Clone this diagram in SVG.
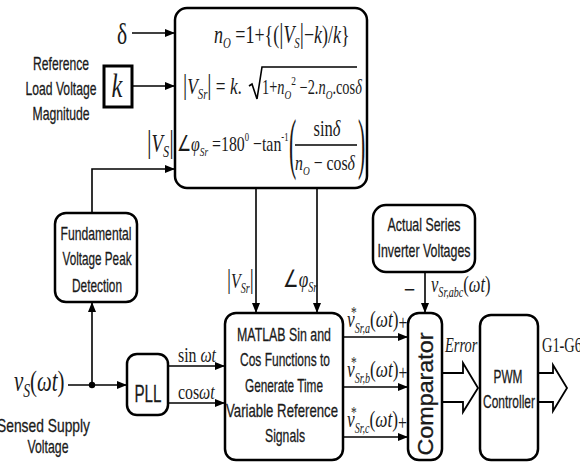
<svg xmlns="http://www.w3.org/2000/svg" width="580" height="463" viewBox="0 0 580 463">
<defs>
<marker id="ah" viewBox="0 0 10 8" refX="10" refY="4" markerWidth="10" markerHeight="8" markerUnits="userSpaceOnUse" orient="auto"><path d="M0,0 L10,4 L0,8 z" fill="#000"/></marker>
</defs>
<style>
.box{fill:#fff;stroke:#000;stroke-width:2.5}
.ln{stroke:#000;stroke-width:1.6;fill:none}
.arr{stroke:#000;stroke-width:1.6;fill:none;marker-end:url(#ah)}
.hol{stroke:#000;stroke-width:1.8;fill:#fff}
.t{font-family:"Liberation Sans",Arial,sans-serif;text-anchor:middle;fill:#1a1a1a;stroke:#1a1a1a;stroke-width:0.3}
.m{font-family:"Liberation Serif","Times New Roman",serif;fill:#1a1a1a}
.i{font-style:italic}
</style>
<rect width="580" height="463" fill="#fff"/>

<g id="connectors">
<line class="arr" x1="132" y1="33" x2="175" y2="33"/>
<line class="arr" x1="132" y1="86" x2="175" y2="86"/>
<polyline class="arr" points="92,213 92,169 175,169"/>
<line class="arr" x1="92" y1="385" x2="92" y2="302"/>
<line class="arr" x1="68" y1="385" x2="127" y2="385"/>
<circle cx="92" cy="385" r="3.2" fill="#000"/>
<line class="arr" x1="168" y1="366" x2="225" y2="366"/>
<line class="arr" x1="168" y1="403" x2="225" y2="403"/>
<line class="arr" x1="256" y1="188" x2="256" y2="313"/>
<line class="arr" x1="317" y1="188" x2="317" y2="313"/>
<line class="arr" x1="425" y1="272" x2="425" y2="313"/>
<line class="arr" x1="343" y1="337" x2="408" y2="337"/>
<line class="arr" x1="343" y1="387" x2="408" y2="387"/>
<line class="arr" x1="343" y1="437" x2="408" y2="437"/>
<polyline class="hol" points="442,373 463,373 463,363 478,388 463,412 463,402 442,402"/>
<polyline class="hol" points="538,373 553,373 553,365 567,388 553,411 553,402 538,402"/>
</g>

<g id="formula">
<rect class="box" x="175" y="8" width="192" height="180" rx="12"/>
<text class="m" font-size="25" transform="translate(214,43) scale(0.72,1)"><tspan class="i">n</tspan><tspan class="i" font-size="15" dy="5">O</tspan><tspan dy="-5"> =1+{(</tspan><tspan font-size="29">|</tspan><tspan class="i">V</tspan><tspan class="i" font-size="15" dy="5">S</tspan><tspan dy="-5" font-size="29">|</tspan><tspan>−</tspan><tspan class="i">k</tspan><tspan>)/</tspan><tspan class="i">k</tspan><tspan>}</tspan></text>
<text class="m" font-size="24" transform="translate(183,94) scale(0.72,1)"><tspan font-size="29">|</tspan><tspan class="i">V</tspan><tspan class="i" font-size="15" dy="5">Sr</tspan><tspan dy="-5" font-size="29">|</tspan><tspan> = </tspan><tspan class="i">k</tspan><tspan>.</tspan></text>
<polyline class="ln" points="249,86 252,84 257,99 262,67 357,67" stroke-width="1.4"/>
<text class="m" font-size="20" transform="translate(262,94) scale(0.72,1)"><tspan>1+</tspan><tspan class="i">n</tspan><tspan class="i" font-size="13" dy="5">O</tspan><tspan font-size="13" dy="-14">2</tspan><tspan dy="9"> −2.</tspan><tspan class="i">n</tspan><tspan class="i" font-size="13" dy="5">O</tspan><tspan dy="-5">.cos</tspan><tspan class="i">δ</tspan></text>
<text class="m" font-size="22" transform="translate(177,151) scale(0.72,1)"><tspan>∠</tspan><tspan class="i">φ</tspan><tspan class="i" font-size="13" dy="5">Sr</tspan><tspan dy="-5"> =180</tspan><tspan font-size="12" dy="-10">0</tspan><tspan dy="10"> −tan</tspan><tspan font-size="12" dy="-10">-1</tspan></text>
<text class="m" font-size="68" transform="translate(289,166) scale(0.32,1)">(</text>
<text class="m" font-size="68" transform="translate(358,166) scale(0.32,1)">)</text>
<text class="m" font-size="23" text-anchor="middle" transform="translate(327,136) scale(0.72,1)"><tspan>sin</tspan><tspan class="i">δ</tspan></text>
<line class="ln" x1="295" y1="145" x2="357" y2="145"/>
<text class="m" font-size="22" text-anchor="middle" transform="translate(325,170) scale(0.72,1)"><tspan class="i">n</tspan><tspan class="i" font-size="13" dy="5">O</tspan><tspan dy="-5"> − cos</tspan><tspan class="i">δ</tspan></text>
</g>

<g id="delta">
<text class="m" font-size="30" transform="translate(117,44) scale(0.72,1)">δ</text>
</g>

<g id="k">
<rect x="104" y="66" width="28" height="41" fill="#fff" stroke="#000" stroke-width="3"/>
<text class="m i" font-size="34" text-anchor="middle" transform="translate(117,97) scale(0.72,1)">k</text>
<text class="t" font-size="19" x="61" y="70" textLength="56" lengthAdjust="spacingAndGlyphs">Reference</text>
<text class="t" font-size="19" x="61" y="95" textLength="71" lengthAdjust="spacingAndGlyphs">Load Voltage</text>
<text class="t" font-size="19" x="61" y="120" textLength="57" lengthAdjust="spacingAndGlyphs">Magnitude</text>
</g>

<g id="vs-label">
<text class="m" font-size="26" transform="translate(147,152) scale(0.72,1)"><tspan font-size="32">|</tspan><tspan class="i">V</tspan><tspan class="i" font-size="17" dy="5">S</tspan><tspan dy="-5" font-size="32">|</tspan></text>
</g>

<g id="fundamental">
<rect class="box" x="55" y="213" width="82" height="89" rx="11"/>
<text class="t" font-size="19" x="96" y="240" textLength="71" lengthAdjust="spacingAndGlyphs">Fundamental</text>
<text class="t" font-size="19" x="97" y="265" textLength="69" lengthAdjust="spacingAndGlyphs">Voltage Peak</text>
<text class="t" font-size="19" x="97" y="292" textLength="50" lengthAdjust="spacingAndGlyphs">Detection</text>
</g>

<g id="source">
<text class="m" font-size="29" transform="translate(14,391) scale(0.72,1)"><tspan class="i">v</tspan><tspan class="i" font-size="19" dy="6">S</tspan><tspan dy="-6">(</tspan><tspan class="i">ωt</tspan><tspan>)</tspan></text>
<text class="t" font-size="19" x="-3" y="432" style="text-anchor:start" textLength="93" lengthAdjust="spacingAndGlyphs">Sensed Supply</text>
<text class="t" font-size="19" x="48" y="453" textLength="41" lengthAdjust="spacingAndGlyphs">Voltage</text>
</g>

<g id="pll">
<rect class="box" x="127" y="354" width="41" height="61" rx="10"/>
<text class="t" font-size="24" x="148" y="402" textLength="27" lengthAdjust="spacingAndGlyphs">PLL</text>
<text class="m" font-size="22" transform="translate(178,362) scale(0.72,1)"><tspan>sin</tspan><tspan class="i"> ωt</tspan></text>
<text class="m" font-size="22" transform="translate(178,399) scale(0.72,1)"><tspan>cos</tspan><tspan class="i">ωt</tspan></text>
</g>

<g id="matlab">
<rect class="box" x="225" y="313" width="118" height="147" rx="11"/>
<text class="t" font-size="19" x="284" y="341" textLength="94" lengthAdjust="spacingAndGlyphs">MATLAB Sin and</text>
<text class="t" font-size="19" x="285" y="366" textLength="90" lengthAdjust="spacingAndGlyphs">Cos Functions to</text>
<text class="t" font-size="19" x="284" y="392" textLength="78" lengthAdjust="spacingAndGlyphs">Generate Time</text>
<text class="t" font-size="19" x="282" y="417" textLength="112" lengthAdjust="spacingAndGlyphs">Variable Reference</text>
<text class="t" font-size="19" x="285" y="442" textLength="40" lengthAdjust="spacingAndGlyphs">Signals</text>
<text class="m" font-size="22" transform="translate(227,288) scale(0.72,1)"><tspan font-size="28">|</tspan><tspan class="i">V</tspan><tspan class="i" font-size="14" dy="5">Sr</tspan><tspan dy="-5" font-size="28">|</tspan></text>
<text class="m" font-size="24" transform="translate(283,287) scale(0.72,1)"><tspan>∠</tspan><tspan class="i">φ</tspan><tspan class="i" font-size="14" dy="5">Sr</tspan></text>
</g>

<g id="refs">
<text class="m" font-size="16" transform="translate(351,318) scale(0.72,1)">*</text>
<text class="m" font-size="24" transform="translate(347,327) scale(0.72,1)"><tspan class="i">v</tspan><tspan class="i" font-size="14" dy="6">Sr,a</tspan><tspan dy="-6">(</tspan><tspan class="i">ωt</tspan><tspan>)</tspan><tspan font-size="22" dy="3">+</tspan></text>
<text class="m" font-size="16" transform="translate(351,368) scale(0.72,1)">*</text>
<text class="m" font-size="24" transform="translate(347,377) scale(0.72,1)"><tspan class="i">v</tspan><tspan class="i" font-size="14" dy="6">Sr,b</tspan><tspan dy="-6">(</tspan><tspan class="i">ωt</tspan><tspan>)</tspan><tspan font-size="22" dy="3">+</tspan></text>
<text class="m" font-size="16" transform="translate(351,418) scale(0.72,1)">*</text>
<text class="m" font-size="24" transform="translate(347,427) scale(0.72,1)"><tspan class="i">v</tspan><tspan class="i" font-size="14" dy="6">Sr,c</tspan><tspan dy="-6">(</tspan><tspan class="i">ωt</tspan><tspan>)</tspan><tspan font-size="22" dy="3">+</tspan></text>
</g>

<g id="actual">
<rect class="box" x="373" y="205" width="102" height="67" rx="13"/>
<text class="t" font-size="19" x="424" y="231" textLength="73" lengthAdjust="spacingAndGlyphs">Actual Series</text>
<text class="t" font-size="19" x="424" y="257" textLength="93" lengthAdjust="spacingAndGlyphs">Inverter Voltages</text>
<text class="m" font-size="28" transform="translate(404,299) scale(0.72,1)">−</text>
<text class="m" font-size="23" transform="translate(431,292) scale(0.72,1)"><tspan class="i">v</tspan><tspan class="i" font-size="14" dy="5">Sr,abc</tspan><tspan dy="-5">(</tspan><tspan class="i">ωt</tspan><tspan>)</tspan></text>
</g>

<g id="comparator">
<rect class="box" x="408" y="313" width="34" height="147" rx="11"/>
<text class="t" font-size="22" transform="translate(433,394) rotate(-90)" textLength="123" lengthAdjust="spacingAndGlyphs">Comparator</text>
<text class="m i" font-size="20" transform="translate(445,352) scale(0.72,1)">Error</text>
</g>

<g id="pwm">
<rect class="box" x="480" y="315" width="58" height="145" rx="11"/>
<text class="t" font-size="19" x="508" y="383" textLength="29" lengthAdjust="spacingAndGlyphs">PWM</text>
<text class="t" font-size="19" x="509" y="408" textLength="52" lengthAdjust="spacingAndGlyphs">Controller</text>
<text class="m" font-size="20" transform="translate(542,352) scale(0.72,1)">G1-G6</text>
</g>
</svg>
